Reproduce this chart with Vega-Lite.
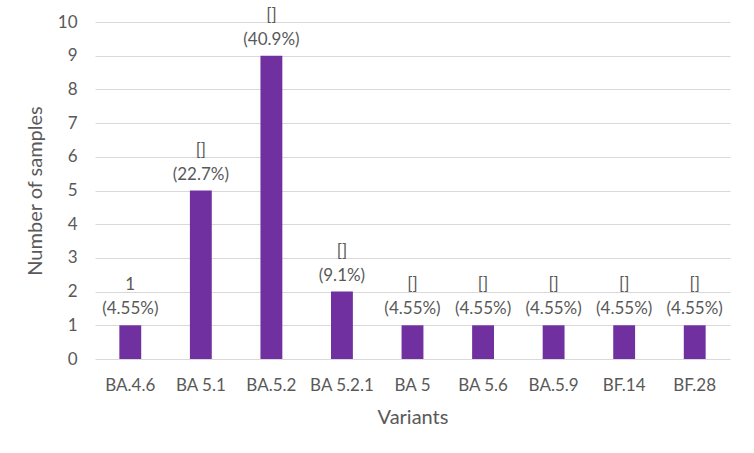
{
  "$schema": "https://vega.github.io/schema/vega-lite/v6.json",
  "autosize": {"type": "none"},
  "padding": {"left": 95, "top": 22, "right": 24, "bottom": 94},
  "width": 635,
  "height": 337,
  "background": "white",
  "config": {
    "view": {"stroke": null},
    "font": "Lato",
    "axis": {"labelColor": "#595959", "titleColor": "#595959", "labelFont": "Lato", "titleFont": "Lato", "titleFontWeight": "normal"}
  },
  "data": {
    "values": [
      {"variant": "BA.4.6", "count": 1, "top": "1", "pct": "(4.55%)"},
      {"variant": "BA 5.1", "count": 5, "top": "[]", "pct": "(22.7%)"},
      {"variant": "BA.5.2", "count": 9, "top": "[]", "pct": "(40.9%)"},
      {"variant": "BA 5.2.1", "count": 2, "top": "[]", "pct": "(9.1%)"},
      {"variant": "BA 5", "count": 1, "top": "[]", "pct": "(4.55%)"},
      {"variant": "BA 5.6", "count": 1, "top": "[]", "pct": "(4.55%)"},
      {"variant": "BA.5.9", "count": 1, "top": "[]", "pct": "(4.55%)"},
      {"variant": "BF.14", "count": 1, "top": "[]", "pct": "(4.55%)"},
      {"variant": "BF.28", "count": 1, "top": "[]", "pct": "(4.55%)"}
    ]
  },
  "encoding": {
    "x": {
      "field": "variant", "type": "nominal", "sort": null,
      "scale": {"paddingInner": 0.69, "paddingOuter": 0.345},
      "axis": {"title": "Variants", "labelAngle": 0, "labelFontSize": 17, "titleFontSize": 20, "labelPadding": 18, "titlePadding": 14, "domain": false, "ticks": false, "labelOverlap": false}
    },
    "y": {
      "field": "count", "type": "quantitative",
      "scale": {"domain": [0, 10]},
      "axis": {"title": "Number of samples", "values": [0,1,2,3,4,5,6,7,8,9,10], "labelFontSize": 17, "titleFontSize": 20, "labelPadding": 18, "titlePadding": 12, "domain": false, "ticks": false, "labelOverlap": false, "gridColor": "#d9d9d9", "gridWidth": 1}
    }
  },
  "layer": [
    {"mark": {"type": "bar", "color": "#7030A0"}},
    {"mark": {"type": "text", "baseline": "bottom", "dy": -7, "fontSize": 17, "color": "#595959"}, "encoding": {"text": {"field": "pct"}}},
    {"mark": {"type": "text", "baseline": "bottom", "dy": -31, "fontSize": 17, "color": "#595959"}, "encoding": {"text": {"field": "top"}}}
  ]
}
